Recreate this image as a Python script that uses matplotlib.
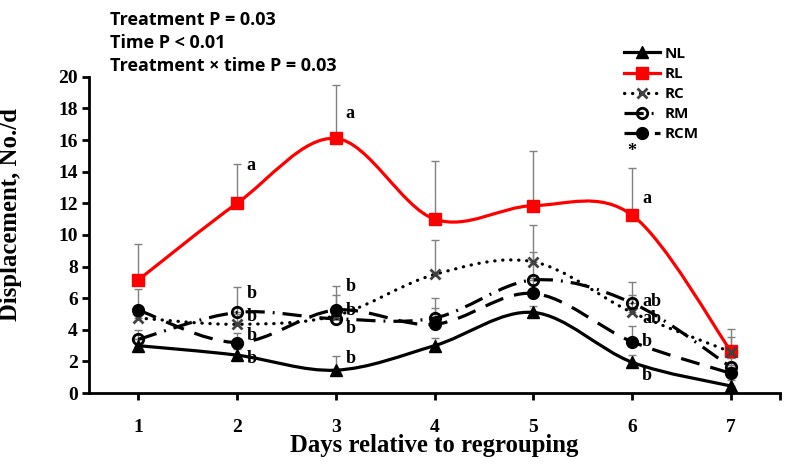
import matplotlib
matplotlib.use("Agg")
import matplotlib.pyplot as plt
import numpy as np
from matplotlib.path import Path
from matplotlib.patches import PathPatch
from matplotlib.lines import Line2D

days = [1, 2, 3, 4, 5, 6, 7]

nl = [3.0, 2.4, 1.45, 3.0, 5.1, 1.95, 0.45]
rl = [7.15, 12.0, 16.1, 11.0, 11.85, 11.25, 2.65]
rc = [4.75, 4.35, 4.9, 7.5, 8.3, 5.1, 2.6]
rm = [3.4, 5.1, 4.7, 4.75, 7.15, 5.7, 1.65]
rcm = [5.25, 3.2, 5.25, 4.35, 6.3, 3.25, 1.25]

# upper error bar tops
nl_top = [3.4, 2.8, 2.35, 3.5, 5.5, 2.4, 0.8]
rl_top = [9.4, 14.5, 19.45, 14.65, 15.3, 14.2, 4.05]
rc_top = [5.4, 5.0, 6.2, 9.65, 10.6, 6.2, 3.55]
rm_top = [4.0, 6.7, 5.2, 5.4, 8.9, 7.05, 2.2]
rcm_top = [6.6, 3.8, 6.77, 6.0, 7.3, 4.25, 1.8]

p_text = ["Treatment P = 0.03", "Time P < 0.01", "Treatment \u00d7 time P = 0.03"]

# letters: (day, y, text)
letters = [
    (2, 14.4, "a"), (3, 17.7, "a"), (6, 12.3, "a"),
    (2, 6.3, "b"), (2, 4.83, "b"), (2, 3.67, "b"), (2, 2.2, "b"),
    (3, 6.73, "b"), (3, 5.25, "b"), (3, 4.1, "b"), (3, 2.2, "b"),
    (6, 5.78, "ab"), (6, 4.72, "ab"), (6, 3.25, "b"), (6, 1.14, "b"),
]
star = (6, 15.3)

serif = "Liberation Serif"
sans = "Open Sans"


def smooth_path(x, y):
    # Excel-like smoothed line: cubic bezier through the points
    n = len(x)
    verts = [(x[0], y[0])]
    codes = [Path.MOVETO]
    for i in range(n - 1):
        a = max(i - 1, 0)
        d = min(i + 2, n - 1)
        c1 = (x[i] + (x[i + 1] - x[a]) / 6, y[i] + (y[i + 1] - y[a]) / 6)
        c2 = (x[i + 1] - (x[d] - x[i]) / 6, y[i + 1] - (y[d] - y[i]) / 6)
        verts += [c1, c2, (x[i + 1], y[i + 1])]
        codes += [Path.CURVE4] * 3
    return Path(verts, codes)


fig = plt.figure(figsize=(7.93, 4.68), dpi=100)
ax = fig.add_axes([0.112, 0.160, 0.872, 0.676])

series = [
    ("NL", nl, nl_top, "black", "-", "^", "black", 8, "butt"),
    ("RL", rl, rl_top, "#ff0000", "-", "s", "#ff0000", 8.5, "butt"),
    ("RC", rc, rc_top, "black", (0, (0.1, 2.4)), "x", "#404040", 7, "round"),
    ("RM", rm, rm_top, "black", (0, (6, 2.5, 0.6, 2.5)), "o", "none", 7.5, "butt"),
    ("RCM", rcm, rcm_top, "black", (0, (6, 3.5)), "o", "black", 7.5, "butt"),
]

# error bars first, behind the lines
for name, vals, tops, col, ls, mk, mfc, ms, cap in series:
    up = np.array(tops) - np.array(vals)
    ax.errorbar(days, vals, yerr=[np.zeros(len(vals)), up], fmt="none",
                ecolor="#808080", elinewidth=1.0, capsize=3, capthick=1.0, zorder=1)

handles = []
for name, vals, tops, col, ls, mk, mfc, ms, cap in series:
    patch = PathPatch(smooth_path(days, vals), facecolor="none", edgecolor=col,
                      linewidth=2.3, linestyle=ls, capstyle=cap, zorder=2)
    ax.add_patch(patch)
    mec = "#404040" if mk == "x" else col
    mew = 2 if mk in ("x", "o") else 1
    ax.plot(days, vals, linestyle="none", marker=mk, markersize=ms,
            markerfacecolor=mfc, markeredgecolor=mec, markeredgewidth=mew, zorder=3)
    h = Line2D([0], [0], color=col, linewidth=2.3, linestyle=ls, marker=mk,
               markersize=ms, markerfacecolor=mfc, markeredgecolor=mec,
               markeredgewidth=mew)
    if cap == "round":
        h.set_dash_capstyle("round")
    handles.append(h)

for d, y, t in letters:
    ax.text(d + 0.1, y, t, fontsize=13, fontweight="bold", family=serif,
            ha="left", va="center", zorder=4)
ax.text(star[0], star[1], "*", fontsize=13, fontweight="bold", family=serif,
        ha="center", va="center")

ax.set_xlim(0.5, 7.5)
ax.set_ylim(0, 20)
ax.set_xticks(days + [7.5])
ax.set_xticklabels([str(d) for d in days] + [""])
ax.set_yticks(np.arange(0, 21, 2))
for lab in ax.get_xticklabels() + ax.get_yticklabels():
    lab.set_family(serif)
    lab.set_fontweight("bold")
    lab.set_fontsize(14)
ax.tick_params(axis="both", direction="out", length=5, width=2, pad=3)
ax.tick_params(axis="x", pad=13.5)
for s in ["top", "right"]:
    ax.spines[s].set_visible(False)
for s in ["left", "bottom"]:
    ax.spines[s].set_linewidth(2)

ax.set_xlabel("Days relative to regrouping", family=serif, fontweight="bold",
              fontsize=17.8, labelpad=-1)
ax.set_ylabel("Displacement, No./d", family=serif, fontweight="bold", fontsize=17.8)
ax.yaxis.set_label_coords(-0.096, 0.565)

for i, t in enumerate(p_text):
    fig.text(110 / 793, 1 - (20 + 23 * i) / 468, t, family=sans, fontweight="bold",
             fontsize=13, ha="left", va="center")

leg = fig.legend(handles, ["NL", "RL", "RC", "RM", "RCM"], loc="upper left",
                 bbox_to_anchor=(610 / 793, 1 - 33 / 468), frameon=False,
                 handlelength=2.4, handletextpad=0.25, labelspacing=0.4,
                 prop={"family": sans, "weight": "bold", "size": 11})

fig.savefig("out.png", dpi=100)
